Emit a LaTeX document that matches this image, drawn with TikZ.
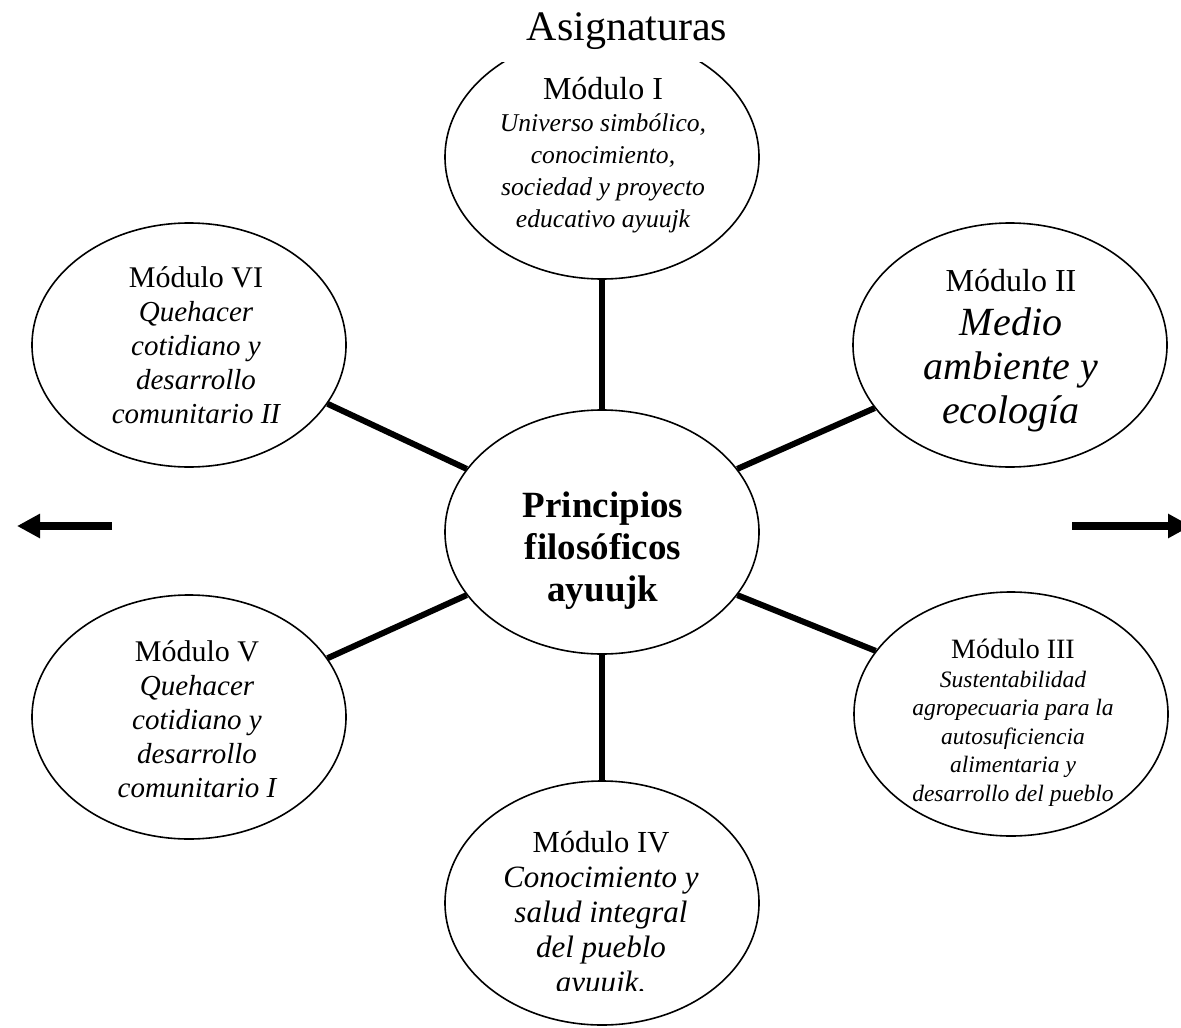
\documentclass[tikz,border=0pt]{standalone}
\usepackage{fontspec}
\setmainfont{Liberation Serif}
\usetikzlibrary{shapes.geometric,arrows.meta}
\begin{document}
\begin{tikzpicture}[x=0.5pt,y=-0.5pt,
  modulo/.style={ellipse,draw,line width=0.8pt,minimum width=157pt,minimum height=122pt,inner sep=0pt},
  rotulo/.style={align=center,inner sep=0pt},
  rayo/.style={line width=3pt},
  flecha/.style={line width=4pt,-{Triangle[length=11.5pt,width=11.5pt]}}]
\clip (0,0) rectangle (1181,1027);
\fill[white] (0,0) rectangle (1181,1027);

% ellipses
\node[modulo] (c)  at (602,532) {};
\node[modulo] (m1) at (602,157) {};
\node[modulo] (m2) at (1010,345) {};
\node[modulo] (m3) at (1011,714) {};
\node[modulo] (m4) at (602,903) {};
\node[modulo] (m5) at (189,717) {};
\node[modulo] (m6) at (189,345) {};

% spokes
\draw[rayo] (c.north) -- (m1.south);
\draw[rayo] (c.south) -- (m4.north);
\draw[rayo] (c.155) -- (m6.-23);
\draw[rayo] (c.25) -- (m2.205);
\draw[rayo] (c.-25) -- (m3.155);
\draw[rayo] (c.205) -- (m5.23);

% title box
\node[fill=white,minimum width=130pt,minimum height=31pt,inner sep=0pt,
      font=\fontsize{21}{25}\selectfont] (tt) at (627,31) {Asignaturas};

% texts
\node[rotulo,font=\fontsize{18.5}{21}\selectfont\bfseries] (tc) at (603,551)
  {Principios\\filosóficos\\ayuujk};
\node[rotulo,font=\fontsize{12.8}{16}\selectfont\itshape] (t1) at (603,155)
  {{\upshape\fontsize{16}{16}\selectfont Módulo I}\\Universo simbólico,\\conocimiento,\\sociedad y proyecto\\educativo ayuujk};
\node[rotulo,font=\fontsize{20}{22}\selectfont\itshape] (t2) at (1011,351)
  {{\upshape\fontsize{16}{16}\selectfont Módulo II}\\Medio\\ambiente y\\ecología};
\node[rotulo,font=\fontsize{11.75}{14.25}\selectfont\itshape] (t3) at (1013,723)
  {{\upshape\fontsize{14}{14}\selectfont Módulo III}\\Sustentabilidad\\agropecuaria para la\\autosuficiencia\\alimentaria y\\desarrollo del pueblo};
\begin{scope}
\clip (440,780) rectangle (765,990);
\node[rotulo,font=\fontsize{15.5}{17.5}\selectfont\itshape] (t4) at (601,915)
  {{\upshape\fontsize{15.3}{15}\selectfont Módulo IV}\\Conocimiento y\\salud integral\\del pueblo\\ayuujk.};
\end{scope}
\node[rotulo,font=\fontsize{14.5}{17}\selectfont\itshape] (t5) at (197,719)
  {{\upshape\fontsize{15}{15}\selectfont Módulo V}\\Quehacer\\cotidiano y\\desarrollo\\comunitario I};
\node[rotulo,font=\fontsize{14.5}{17}\selectfont\itshape] (t6) at (196,345)
  {{\upshape\fontsize{15}{15}\selectfont Módulo VI}\\Quehacer\\cotidiano y\\desarrollo\\comunitario II};

% side arrows
\coordinate (izqA) at (112,526);
\coordinate (izqB) at (17,526);
\coordinate (derA) at (1072,526);
\coordinate (derB) at (1191,526);
\draw[flecha] (izqA) -- (izqB);
\draw[flecha] (derA) -- (derB);
\end{tikzpicture}
\end{document}
